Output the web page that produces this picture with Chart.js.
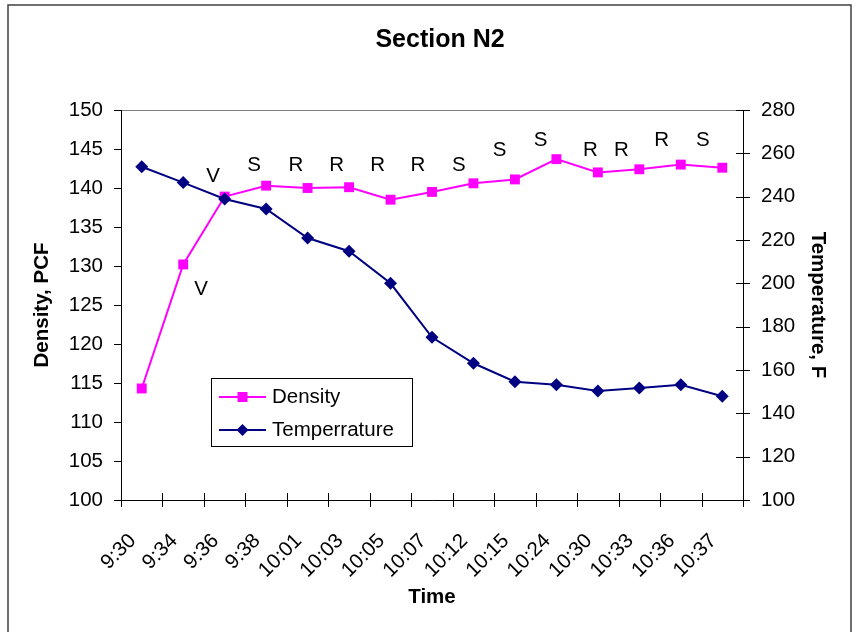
<!DOCTYPE html>
<html>
<head>
<meta charset="utf-8">
<title>Section N2</title>
<script src="https://cdn.jsdelivr.net/npm/chart.js@4.4.1/dist/chart.umd.min.js"></script>
<style>
  html, body { margin: 0; padding: 0; background: #ffffff; }
  #wrap { width: 857px; height: 632px; position: relative; }
</style>
</head>
<body>
<div id="wrap"><canvas id="chart" width="857" height="632"></canvas></div>
<script>
// Sampling times along section N2
const times = ['9:30', '9:34', '9:36', '9:38', '10:01', '10:03', '10:05', '10:07',
               '10:12', '10:15', '10:24', '10:30', '10:33', '10:36', '10:37'];

// Density readings, PCF (left axis)
const density = [114.3, 130.2, 138.9, 140.3, 140.0, 140.1, 138.5, 139.5,
                 140.6, 141.1, 143.7, 142.0, 142.4, 143.0, 142.6];

// Mix temperature, F (right axis)
const temperature = [253.8, 246.5, 238.9, 234.3, 220.9, 214.8, 200.0, 175.1,
                     163.1, 154.6, 153.2, 150.3, 151.7, 153.2, 147.9];

// Axis tick values
const densityTicks = [100, 105, 110, 115, 120, 125, 130, 135, 140, 145, 150];
const temperatureTicks = [100, 120, 140, 160, 180, 200, 220, 240, 260, 280];

// Roller pass notes: letter, position along the time axis, height in PCF
const noteText  = ['V', 'V', 'S', 'R', 'R', 'R', 'R', 'S', 'S', 'S', 'R', 'R', 'R', 'S'];
const noteAt    = [1.43, 1.72, 2.71, 3.72, 4.70, 5.69, 6.66, 7.65, 8.63, 9.62, 10.82, 11.57, 12.54, 13.53];
const noteLevel = [127.0, 141.5, 142.9, 142.9, 142.9, 142.9, 142.9, 142.9, 144.8, 146.1, 144.8, 144.8, 146.1, 146.1];

const FONT = '"Liberation Sans", Arial, Helvetica, sans-serif';
const TXT = 20.5;

// Frame, plot-area outline, tick marks, legend, notes and title
const decor = {
  id: 'decor',
  beforeDraw(chart) {
    const ctx = chart.ctx;
    const a = chart.chartArea;
    ctx.save();
    ctx.fillStyle = '#ffffff';
    ctx.fillRect(0, 0, chart.width, chart.height);
    ctx.strokeStyle = '#404040';
    ctx.lineWidth = 1.5;
    ctx.strokeRect(8, 5, 843, 700);
    ctx.strokeStyle = '#808080';
    ctx.lineWidth = 1;
    ctx.strokeRect(a.left + 0.5, a.top + 0.5, a.right - a.left, a.bottom - a.top);
    ctx.restore();
  },
  afterDatasetsDraw(chart) {
    const ctx = chart.ctx;
    const {x, y, y1} = chart.scales;
    ctx.save();
    ctx.strokeStyle = '#000000';
    ctx.lineWidth = 1;
    ctx.beginPath();
    y.ticks.forEach(t => {
      const p = Math.round(y.getPixelForValue(t.value)) + 0.5;
      ctx.moveTo(y.right - 7, p); ctx.lineTo(y.right, p);
    });
    y1.ticks.forEach(t => {
      const p = Math.round(y1.getPixelForValue(t.value)) + 0.5;
      ctx.moveTo(y1.left - 7, p); ctx.lineTo(y1.left + 7, p);
    });
    for (let i = 0; i <= times.length; i++) {
      const p = Math.round(x.getPixelForValue(i - 0.5)) + 0.5;
      ctx.moveTo(p, x.top - 7); ctx.lineTo(p, x.top + 7);
    }
    ctx.stroke();

    // pass notes
    ctx.fillStyle = '#000000';
    ctx.font = TXT + 'px ' + FONT;
    ctx.textAlign = 'center';
    ctx.textBaseline = 'middle';
    noteText.forEach((t, i) => {
      ctx.fillText(t, x.getPixelForValue(noteAt[i]), y.getPixelForValue(noteLevel[i]));
    });

    // legend
    const lx = 211, ly = 378, lw = 201, lh = 68;
    ctx.fillStyle = '#ffffff';
    ctx.fillRect(lx, ly, lw, lh);
    ctx.strokeStyle = '#000000';
    ctx.lineWidth = 1;
    ctx.strokeRect(lx + 0.5, ly + 0.5, lw, lh);
    chart.data.datasets.forEach((ds, i) => {
      const cy = ly + 19 + i * 33;
      ctx.strokeStyle = ds.borderColor;
      ctx.lineWidth = 2;
      ctx.beginPath();
      ctx.moveTo(219, cy); ctx.lineTo(266, cy);
      ctx.stroke();
      ctx.fillStyle = ds.backgroundColor;
      ctx.beginPath();
      if (ds.pointStyle === 'rect') {
        ctx.rect(242.5 - 5, cy - 5, 10, 10);
      } else {
        ctx.moveTo(242.5, cy - 6); ctx.lineTo(248.5, cy);
        ctx.lineTo(242.5, cy + 6); ctx.lineTo(236.5, cy);
        ctx.closePath();
      }
      ctx.fill();
      ctx.fillStyle = '#000000';
      ctx.textAlign = 'left';
      ctx.textBaseline = 'middle';
      ctx.fillText(ds.label, 272, cy);
    });

    // chart title
    ctx.font = 'bold 25px ' + FONT;
    ctx.textAlign = 'center';
    ctx.textBaseline = 'middle';
    ctx.fillStyle = '#000000';
    ctx.fillText('Section N2', 440, 40);
    ctx.restore();
  }
};

new Chart(document.getElementById('chart'), {
  type: 'line',
  data: {
    labels: times,
    datasets: [
      {
        label: 'Density',
        data: density,
        yAxisID: 'y',
        borderColor: '#ff00ff',
        backgroundColor: '#ff00ff',
        borderWidth: 2,
        pointStyle: 'rect',
        pointRadius: 7,
        pointBorderWidth: 0,
        tension: 0,
        order: 2
      },
      {
        label: 'Temperrature',
        data: temperature,
        yAxisID: 'y1',
        borderColor: '#000080',
        backgroundColor: '#000080',
        borderWidth: 2,
        pointStyle: 'rectRot',
        pointRadius: 6.5,
        pointBorderWidth: 0,
        tension: 0,
        order: 1
      }
    ]
  },
  plugins: [decor],
  options: {
    responsive: false,
    animation: false,
    devicePixelRatio: 1,
    layout: { padding: { top: 110, left: 0, right: 0, bottom: 0 } },
    plugins: {
      legend: { display: false },
      title: { display: false },
      tooltip: { enabled: false }
    },
    scales: {
      x: {
        type: 'category',
        offset: true,
        grid: { display: false },
        border: { display: true, color: '#000000', width: 1 },
        ticks: {
          color: '#000000',
          font: { family: FONT, size: TXT },
          minRotation: 45,
          maxRotation: 45,
          autoSkip: false,
          padding: 21,
          labelOffset: -9
        },
        title: {
          display: true,
          text: 'Time',
          color: '#000000',
          font: { family: FONT, size: TXT, weight: 'bold' },
          padding: { top: 0, bottom: 22 }
        },
        afterFit(s) { s.height = 132; }
      },
      y: {
        position: 'left',
        min: 100,
        max: 150,
        afterBuildTicks(s) { s.ticks = densityTicks.map(v => ({ value: v })); },
        grid: { display: false },
        border: { display: true, color: '#000000', width: 1 },
        ticks: {
          color: '#000000',
          font: { family: FONT, size: TXT },
          padding: 10
        },
        title: {
          display: true,
          text: 'Density, PCF',
          color: '#000000',
          font: { family: FONT, size: TXT, weight: 'bold' },
          padding: { top: 30, bottom: 0 }
        },
        afterFit(s) { s.width = 121; }
      },
      y1: {
        position: 'right',
        min: 100,
        max: 280,
        afterBuildTicks(s) { s.ticks = temperatureTicks.map(v => ({ value: v })); },
        grid: { display: false },
        border: { display: true, color: '#000000', width: 1 },
        ticks: {
          color: '#000000',
          font: { family: FONT, size: TXT },
          padding: 10
        },
        title: {
          display: true,
          text: 'Temperature, F',
          color: '#000000',
          font: { family: FONT, size: TXT, weight: 'bold' },
          padding: { top: 27, bottom: 0 }
        },
        afterFit(s) { s.width = 114; }
      }
    }
  }
});
</script>
</body>
</html>
